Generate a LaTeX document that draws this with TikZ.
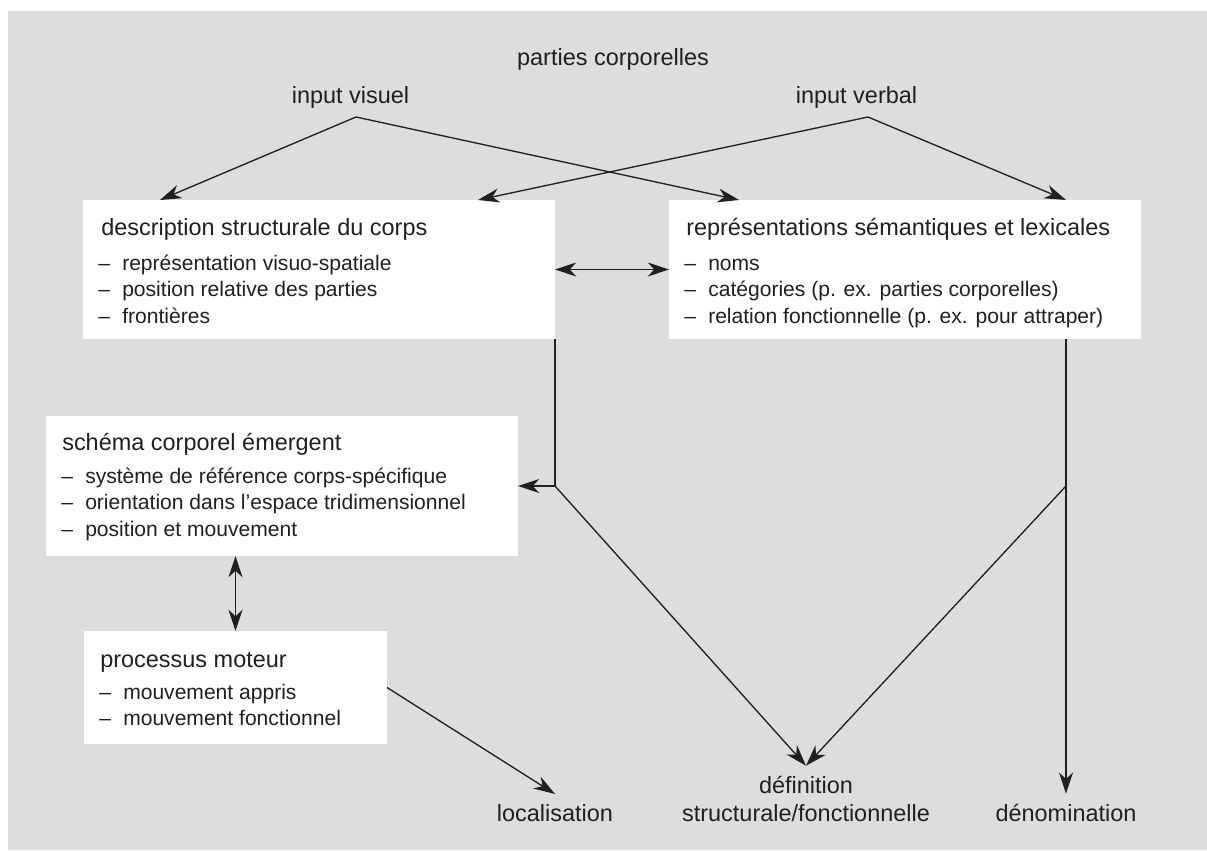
\documentclass[tikz,border=0pt]{standalone}
\usepackage{fontspec}
\setmainfont{Liberation Sans}
\usepackage{xcolor}
\usetikzlibrary{arrows.meta}

\definecolor{bggray}{RGB}{220,221,223}
\definecolor{ink}{RGB}{35,31,32}
\newcommand{\ttlsize}{\fontsize{17.6}{21}\selectfont}
\newcommand{\itmsize}{\fontsize{15.8}{20}\selectfont}
\newcommand{\itm}[1]{\makebox[18pt][l]{--}#1}

\tikzset{
  box/.style={fill=white, anchor=north west, inner sep=0pt, outer sep=0pt},
  ttl/.style={anchor=base west, inner sep=0pt, text=ink, font=\ttlsize},
  itmline/.style={anchor=base west, inner sep=0pt, text=ink, font=\itmsize},
  lbl/.style={anchor=base, inner sep=0pt, outer sep=7.5pt, text=ink, font=\ttlsize},
  conn/.style={draw=ink, line width=1pt},
  tip/.tip={Stealth[length=16pt,width=10.5pt,inset=5pt]},
  arr/.style={conn, -tip},
  darr/.style={conn, tip-tip},
}

\begin{document}
\begin{tikzpicture}[x=0.75pt,y=0.75pt,yscale=-1,xscale=1]
  \useasboundingbox (0,0) rectangle (1207,850);
  %Background
  \fill [bggray] (8,11) rectangle (1207,850);

  %Shapes: Boxes
  \node [box, minimum width=354pt, minimum height=104.25pt] (desc) at (83,200) {};
  \node [box, minimum width=354pt, minimum height=104.25pt] (sem) at (669,200) {};
  \node [box, minimum width=354pt, minimum height=105pt] (schema) at (46,416) {};
  \node [box, minimum width=227.25pt, minimum height=84.75pt] (moteur) at (84,631) {};

  % Text Node
  \node [lbl] (parties) at (613,65) {parties corporelles};
  % Text Node
  \node [lbl] (visuel) at (350.5,103) {input visuel};
  % Text Node
  \node [lbl] (verbal) at (856.5,103) {input verbal};

  % Text Node: description structurale
  \node [ttl] (descttl) at (101,235) {description structurale du corps};
  \node [itmline] (desca) at (98,270) {\itm{représentation visuo-spatiale}};
  \node [itmline] (descb) at (98,296.5) {\itm{position relative des parties}};
  \node [itmline] (descc) at (98,323) {\itm{frontières}};

  % Text Node: representations
  \node [ttl] (semttl) at (686,235) {représentations sémantiques et lexicales};
  \node [itmline] (sema) at (684,270) {\itm{noms}};
  \node [itmline] (semb) at (684,296.5) {\itm{catégories (p. ex. parties corporelles)}};
  \node [itmline] (semc) at (684,323) {\itm{relation fonctionnelle (p. ex. pour attraper)}};

  % Text Node: schema corporel
  \node [ttl] (schemattl) at (62,450) {schéma corporel émergent};
  \node [itmline] (schemaa) at (61,483) {\itm{système de référence corps-spécifique}};
  \node [itmline] (schemab) at (61,509.5) {\itm{orientation dans l’espace tridimensionnel}};
  \node [itmline] (schemac) at (61,536) {\itm{position et mouvement}};

  % Text Node: processus moteur
  \node [ttl] (moteurttl) at (100,667) {processus moteur};
  \node [itmline] (moteura) at (99,699) {\itm{mouvement appris}};
  \node [itmline] (moteurb) at (99,725) {\itm{mouvement fonctionnel}};

  % Text Node: outputs
  \node [lbl] (loc) at (555,821) {localisation};
  \node [lbl] (def) at (806,793) {définition};
  \node [lbl] (defb) at (806,821) {structurale/fonctionnelle};
  \node [lbl] (denom) at (1066,821) {dénomination};

  %Coordinates
  \coordinate (vis) at (356,117);
  \coordinate (verb) at (868,117);
  \coordinate (visdesc) at (160,200);
  \coordinate (vissem) at (739,200);
  \coordinate (verbdesc) at (478,200);
  \coordinate (verbsem) at (1066,200);
  \coordinate (semout) at (1066,339);
  \coordinate (jl) at (desc.south east |- schema.east);
  \coordinate (jr) at (semout |- schema.east);

  %Straight Lines
  \draw [arr] (vis) -- (visdesc);
  \draw [arr] (vis) -- (vissem);
  \draw [arr] (verb) -- (verbdesc);
  \draw [arr] (verb) -- (verbsem);
  %Straight Lines
  \draw [darr] (desc.east) -- (sem.west);
  \draw [darr] (moteur.north |- schema.south) -- (moteur.north);
  %Straight Lines
  \draw [conn] (desc.south east) -- (jl);
  \draw [arr] (jl) -- (schema.east);
  \draw [arr] (jl) -- (def.north);
  \draw [arr] (semout) -- (denom.north);
  \draw [arr] (jr) -- (def.north);
  \draw [arr] (moteur.east) -- (loc.north);

\end{tikzpicture}
\end{document}
